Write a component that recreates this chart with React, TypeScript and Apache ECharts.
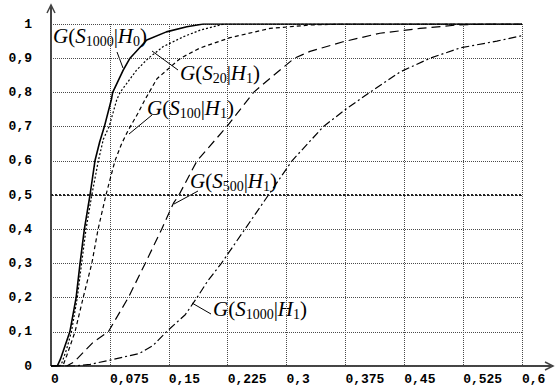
import React, { useEffect, useRef } from "react";
import * as echarts from "echarts";

// Tick labels
const xTickLabels = ["0", "0,075", "0,15", "0,225", "0,3", "0,375", "0,45", "0,525", "0,6"];
const yTickLabels = ["0", "0,1", "0,2", "0,3", "0,4", "0,5", "0,6", "0,7", "0,8", "0,9", "1"];

// G(S1000|H0) – solid
const h0X = [0, 0.008, 0.012, 0.018, 0.024, 0.032, 0.037, 0.0425, 0.0497, 0.056, 0.062, 0.068, 0.077, 0.0786, 0.092, 0.1006, 0.122, 0.147, 0.173, 0.194, 0.6];
const h0Y = [0, 0, 0.02, 0.06, 0.1, 0.2, 0.3, 0.4, 0.5, 0.6, 0.655, 0.7, 0.78, 0.8, 0.865, 0.9, 0.953, 0.977, 0.992, 1, 1];

// G(S20|H1) – dotted
const s20X = [0, 0.011, 0.014, 0.02, 0.026, 0.0335, 0.039, 0.0446, 0.052, 0.0603, 0.0667, 0.074, 0.0837, 0.088, 0.109, 0.124, 0.143, 0.169, 0.19, 0.22, 0.6];
const s20Y = [0, 0, 0.01, 0.05, 0.1, 0.2, 0.3, 0.4, 0.5, 0.6, 0.663, 0.7, 0.778, 0.8, 0.865, 0.9, 0.934, 0.963, 0.982, 1, 1];

// G(S100|H1) – short dashes
const s100X = [0, 0.015, 0.02, 0.0306, 0.041, 0.052, 0.060, 0.070, 0.0815, 0.09, 0.0985, 0.111, 0.12, 0.135, 0.165, 0.19, 0.228, 0.279, 0.33, 0.37, 0.6];
const s100Y = [0, 0, 0.03, 0.1, 0.2, 0.3, 0.4, 0.5, 0.6, 0.65, 0.69, 0.74, 0.78, 0.84, 0.9, 0.93, 0.96, 0.987, 0.997, 1, 1];

// G(S500|H1) – long dashes
const s500X = [0, 0.02, 0.03, 0.0455, 0.054, 0.073, 0.0985, 0.12, 0.141, 0.156, 0.163, 0.186, 0.224, 0.258, 0.279, 0.31, 0.33, 0.372, 0.419, 0.47, 0.517, 0.56, 0.6];
const s500Y = [0, 0, 0.013, 0.05, 0.07, 0.1, 0.2, 0.3, 0.4, 0.476, 0.5, 0.6, 0.7, 0.8, 0.841, 0.9, 0.92, 0.948, 0.973, 0.987, 0.997, 1, 1];

// G(S1000|H1) – dash-dot
const s1000X = [0, 0.03, 0.05, 0.075, 0.113, 0.13, 0.147, 0.171, 0.186, 0.2, 0.217, 0.232, 0.247, 0.262, 0.277, 0.307, 0.347, 0.375, 0.406, 0.445, 0.483, 0.521, 0.568, 0.6];
const s1000Y = [0, 0, 0.005, 0.017, 0.037, 0.06, 0.1, 0.15, 0.2, 0.25, 0.3, 0.35, 0.4, 0.45, 0.5, 0.6, 0.7, 0.75, 0.8, 0.86, 0.9, 0.93, 0.95, 0.966];

const zip = (xs: number[], ys: number[]) => xs.map((x, i) => [x, ys[i]]);

const GRID = { left: 51, right: 36, top: 24, bottom: 21 };
const W = 558;
const H = 387;

const richStyles = {
  i: { fontFamily: "Liberation Serif", fontStyle: "italic", fontSize: 21, lineHeight: 24, fill: "#000" },
  n: { fontFamily: "Liberation Serif", fontSize: 21, lineHeight: 24, fill: "#000" },
  s: { fontFamily: "Liberation Serif", fontSize: 14, lineHeight: 11, verticalAlign: "bottom", fill: "#000" },
};

const label = (sub: string, hyp: string, x: number, y: number) => ({
  type: "text",
  silent: true,
  style: {
    x,
    y,
    text: `{i|G}{n|(}{i|S}{s|${sub}}{n||}{i|H}{s|${hyp}}{n|)}`,
    rich: richStyles,
    verticalAlign: "middle",
    align: "left",
  },
});

const pointer = (x1: number, y1: number, x2: number, y2: number) => ({
  type: "line",
  silent: true,
  shape: { x1, y1, x2, y2 },
  style: { stroke: "#000", lineWidth: 1 },
});

export default function App() {
  const ref = useRef<HTMLDivElement>(null);
  useEffect(() => {
    if (!ref.current) return;
    const chart = echarts.init(ref.current, null, { renderer: "svg" });
    const x0 = GRID.left;
    const yB = H - GRID.bottom;
    const axisColor = "#444";
    const lineColor = "#000";
    const gridColor = "#4a4a4a";
    chart.setOption({
      animation: false,
      backgroundColor: "#fff",
      grid: { ...GRID },
      xAxis: {
        type: "value",
        min: 0,
        max: 0.6,
        interval: 0.075,
        axisLine: { show: false },
        axisTick: { show: false },
        splitLine: { show: true, lineStyle: { type: "dotted", color: gridColor, width: 1 } },
        axisLabel: {
          align: "left",
          margin: 7,
          fontFamily: "Liberation Mono",
          fontWeight: "bold",
          fontSize: 13,
          color: "#000",
          formatter: (v: number) => xTickLabels[Math.round(v / 0.075)] ?? "",
        },
      },
      yAxis: {
        type: "value",
        min: 0,
        max: 1,
        interval: 0.1,
        axisLine: { show: false },
        axisTick: { show: false },
        splitLine: {
          show: true,
          lineStyle: { type: "dotted", width: 1, color: gridColor },
        },
        axisLabel: {
          margin: 19,
          padding: [6, 0, 0, 0],
          fontFamily: "Liberation Mono",
          fontWeight: "bold",
          fontSize: 13,
          color: "#000",
          formatter: (v: number) => yTickLabels[Math.round(v / 0.1)] ?? "",
        },
      },
      series: [
        {
          name: "S1000H1",
          type: "line",
          data: zip(s1000X, s1000Y),
          showSymbol: false,
          lineStyle: { color: lineColor, width: 1.2, type: [8, 3, 2, 3] },
        },
        {
          name: "S500H1",
          type: "line",
          data: zip(s500X, s500Y),
          showSymbol: false,
          lineStyle: { color: lineColor, width: 1.2, type: [9, 5] },
          markLine: {
            silent: true,
            symbol: "none",
            label: { show: false },
            lineStyle: { type: "dotted", color: "#222", width: 2 },
            data: [{ yAxis: 0.5 }],
          },
        },
        {
          name: "S100H1",
          type: "line",
          data: zip(s100X, s100Y),
          showSymbol: false,
          lineStyle: { color: lineColor, width: 1.2, type: [4, 3] },
        },
        {
          name: "S20H1",
          type: "line",
          data: zip(s20X, s20Y),
          showSymbol: false,
          lineStyle: { color: lineColor, width: 1.2, type: [2, 2] },
        },
        {
          name: "S1000H0",
          type: "line",
          data: zip(h0X, h0Y),
          showSymbol: false,
          lineStyle: { color: lineColor, width: 1.6, type: "solid" },
        },
      ],
      graphic: [
        // axes with arrows
        { type: "line", silent: true, shape: { x1: x0, y1: yB, x2: 553, y2: yB }, style: { stroke: axisColor, lineWidth: 2 } },
        { type: "polyline", silent: true, shape: { points: [[545, yB - 4], [553, yB], [545, yB + 4]] }, style: { stroke: axisColor, lineWidth: 1.5, fill: "none" } },
        { type: "line", silent: true, shape: { x1: x0, y1: yB, x2: x0, y2: 5 }, style: { stroke: axisColor, lineWidth: 2 } },
        { type: "polyline", silent: true, shape: { points: [[x0 - 4, 13], [x0, 5], [x0 + 4, 13]] }, style: { stroke: axisColor, lineWidth: 1.5, fill: "none" } },
        // labels
        label("1000", "0", 53, 36),
        label("20", "1", 180, 73),
        label("100", "1", 147, 108),
        label("500", "1", 190, 181),
        label("1000", "1", 213, 309),
        // pointers
        pointer(117, 52, 123, 68),
        pointer(152, 51, 178, 70),
        pointer(129, 134, 152, 115),
        pointer(174, 204, 198, 191),
        pointer(192, 303, 211, 314),
      ],
    });
    return () => chart.dispose();
  }, []);
  return (
    <div
      ref={ref}
      style={{ position: "fixed", left: 0, top: 0, width: W, height: H, background: "#fff" }}
    />
  );
}
